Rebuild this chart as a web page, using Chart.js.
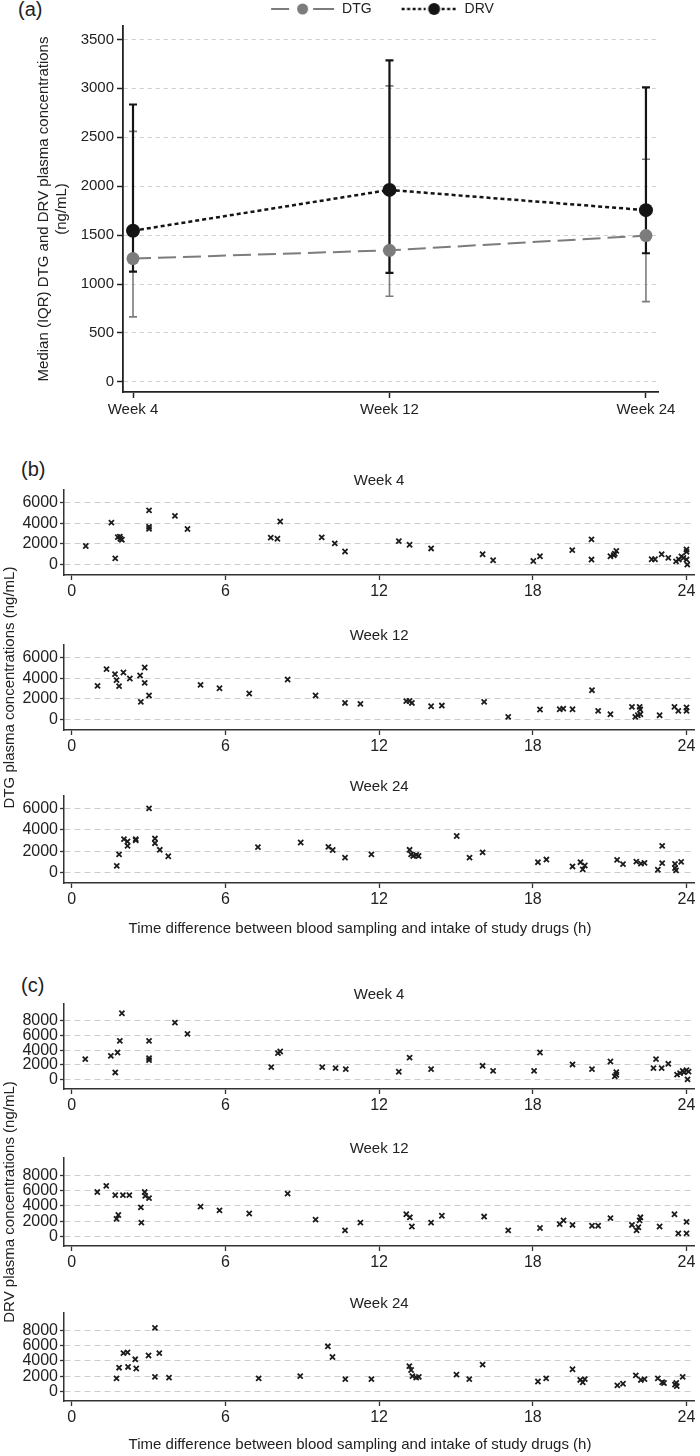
<!DOCTYPE html>
<html>
<head>
<meta charset="utf-8">
<script src="https://cdn.jsdelivr.net/npm/chart.js@4.4.0/dist/chart.umd.min.js"></script>
<style>
  body { margin: 0; background: #fff; }
  #wrap { position: relative; width: 700px; height: 1456px; font-family: "Liberation Sans", Arial, sans-serif; color: #222; }
  canvas { position: absolute; left: 0; }
  .lbl { position: absolute; font-size: 20px; line-height: 20px; }
  .xt { position: absolute; left: 0; width: 720px; text-align: center; font-size: 15px; line-height: 18px; }
</style>
</head>
<body>
<div id="wrap">
  <div class="lbl" style="left:18px;top:-1px">(a)</div>
  <canvas id="ca" width="700" height="430" style="top:0px"></canvas>

  <div class="lbl" style="left:21px;top:459px">(b)</div>
  <canvas id="b4" width="700" height="135" style="top:470px"></canvas>
  <canvas id="b12" width="700" height="255" style="top:560px"></canvas>
  <canvas id="b24" width="700" height="137" style="top:776px"></canvas>
  <div class="xt" style="top:919px">Time difference between blood sampling and intake of study drugs (h)</div>

  <div class="lbl" style="left:21px;top:975px">(c)</div>
  <canvas id="c4" width="700" height="135" style="top:984px"></canvas>
  <canvas id="c12" width="700" height="265" style="top:1070px"></canvas>
  <canvas id="c24" width="700" height="138" style="top:1293px"></canvas>
  <div class="xt" style="top:1435px">Time difference between blood sampling and intake of study drugs (h)</div>
</div>
<script>
// panel (a): median and IQR per visit
const weeks = ['Week 4', 'Week 12', 'Week 24'];
const dtgMedian = [1260, 1345, 1495];
const dtgQ1 = [665, 875, 820];
const dtgQ3 = [2560, 3025, 2275];
const drvMedian = [1545, 1962, 1755];
const drvQ1 = [1128, 1115, 1315];
const drvQ3 = [2835, 3285, 3010];
const medianTicks = [0, 500, 1000, 1500, 2000, 2500, 3000, 3500];

// panels (b) and (c): [hours since intake, ng/mL]
const hourTicks = [0, 6, 12, 18, 24];
const dtgTicks = [0, 2000, 4000, 6000];
const drvTicks = [0, 2000, 4000, 6000, 8000];

const dtgWeek4 = [[0.55,1800],[1.55,4050],[1.7,600],[1.8,2650],[1.88,2700],[1.96,2400],[1.9,2500],[3.02,5230],[3.02,3650],[3.02,3450],
  [4.03,4710],[4.52,3440],[7.77,2600],[8.03,2500],[8.14,4160],[9.76,2630],[10.27,2050],[10.67,1270],[12.77,2270],[13.19,1915],
  [14.03,1560],[16.04,1000],[16.45,420],[18.02,350],[18.28,810],[19.54,1400],[20.29,2440],[20.29,490],[21.03,810],[21.16,910],
  [21.26,1330],[21.2,1050],[22.64,520],[22.77,520],[23.03,1000],[23.29,650],[23.59,320],[23.7,500],[23.8,800],[23.88,650],
  [24.0,1460],[24.0,1230],[24.0,490],[24.03,0]];
const dtgWeek12 = [[1.01,3260],[1.36,4870],[1.69,4390],[1.75,3810],[1.85,3230],[2.02,4550],[2.27,3970],[2.67,4260],[2.85,5030],[2.85,3550],
  [2.7,1710],[3.02,2330],[5.03,3350],[5.77,3030],[6.93,2520],[8.43,3870],[9.52,2330],[10.67,1610],[11.27,1520],[13.06,1780],
  [13.19,1800],[13.28,1610],[14.03,1290],[14.45,1360],[16.1,1710],[17.04,260],[18.28,975],[19.05,1000],[19.19,1060],[19.55,1000],
  [20.31,2840],[20.55,840],[21.03,520],[21.87,1230],[22.17,1230],[22.19,975],[22.0,260],[22.1,425],[22.2,520],[22.95,425],
  [23.53,1230],[23.68,840],[24.0,1170],[24.0,840]];
const dtgWeek24 = [[1.76,620],[1.85,1700],[2.04,3130],[2.18,2910],[2.18,2500],[2.5,3130],[2.5,3030],[3.02,6030],[3.25,3190],[3.25,2750],
  [3.44,2130],[3.77,1520],[7.27,2380],[8.94,2820],[10.02,2410],[10.19,2110],[10.67,1390],[11.7,1700],[13.19,2130],[13.25,1700],
  [13.33,1550],[13.45,1650],[13.54,1550],[15.03,3430],[15.53,1390],[16.04,1890],[18.2,960],[18.53,1210],[19.55,560],[19.86,960],
  [20.03,650],[19.95,280],[21.29,1180],[21.52,780],[22.04,1020],[22.22,830],[22.36,900],[22.88,250],[23.05,2500],[23.05,870],
  [23.55,800],[23.55,410],[23.59,190],[23.79,990]];

const drvWeek4 = [[0.53,2790],[1.53,3240],[1.7,990],[1.79,3690],[1.88,5260],[1.96,9000],[3.02,5260],[3.02,2930],[3.02,2650],[4.03,7730],
  [4.52,6210],[7.79,1710],[8.05,3600],[8.14,3820],[9.78,1710],[10.3,1580],[10.7,1440],[12.77,1080],[13.19,3000],[14.03,1440],
  [16.04,1890],[16.45,1210],[18.05,1210],[18.28,3690],[19.55,2070],[20.31,1440],[21.03,2470],[21.26,1040],[21.26,675],[21.2,450],
  [22.71,1580],[22.81,2800],[23.03,1580],[23.29,2160],[23.63,700],[23.75,900],[23.85,1200],[23.9,1000],[24.0,1300],[24.08,1100],
  [24.04,50]];
const drvWeek12 = [[1.0,5800],[1.35,6600],[1.7,5400],[1.75,2300],[1.82,2800],[2.0,5400],[2.25,5400],[2.7,3800],[2.72,1800],[2.85,5800],
  [2.87,5300],[3.02,5000],[5.03,3900],[5.77,3400],[6.93,3000],[8.43,5600],[9.52,2200],[10.67,800],[11.27,1800],[13.06,2900],
  [13.2,2500],[13.28,1300],[14.03,1800],[14.45,2700],[16.1,2600],[17.04,800],[18.28,1100],[19.05,1600],[19.2,2100],[19.55,1500],
  [20.31,1400],[20.55,1400],[21.03,2400],[21.87,1500],[22.05,800],[22.12,1200],[22.17,2100],[22.2,2500],[22.95,1300],[23.53,2900],
  [23.68,400],[24.0,1900],[24.0,400]];
const drvWeek24 = [[1.75,1700],[1.85,3100],[2.02,5000],[2.18,5100],[2.2,3200],[2.48,4200],[2.52,3000],[3.0,4700],[3.25,8300],[3.42,5000],
  [3.25,1900],[3.8,1800],[7.3,1700],[8.92,2000],[10.0,5900],[10.18,4500],[10.68,1600],[11.7,1600],[13.18,3300],[13.25,2800],
  [13.3,2000],[13.45,1800],[13.55,1900],[15.02,2200],[15.52,1600],[16.04,3500],[18.2,1300],[18.52,1700],[19.55,2900],[19.85,1500],
  [19.95,1200],[20.03,1600],[21.3,800],[21.52,1000],[22.02,2100],[22.22,1500],[22.36,1600],[22.88,1700],[23.05,1200],[23.12,1100],
  [23.55,900],[23.6,1100],[23.62,700],[23.85,1900]];

Chart.defaults.font.family = "'Liberation Sans', Arial, sans-serif";
Chart.defaults.color = '#222';

const GREY = '#7c7c7c';
const INK = '#141414';

// vertical IQR bars with caps, drawn under the medians
const iqrBars = {
  id: 'iqrBars',
  beforeDatasetsDraw(chart) {
    const { ctx, scales: { x, y } } = chart;
    const bars = [
      { lo: dtgQ1, hi: dtgQ3, color: GREY, width: 1.6 },
      { lo: drvQ1, hi: drvQ3, color: INK, width: 2.2 }
    ];
    ctx.save();
    bars.forEach(b => {
      ctx.strokeStyle = b.color;
      ctx.lineWidth = b.width;
      b.lo.forEach((lo, i) => {
        const px = x.getPixelForValue(i);
        const y1 = y.getPixelForValue(lo);
        const y2 = y.getPixelForValue(b.hi[i]);
        ctx.beginPath();
        ctx.moveTo(px, y1); ctx.lineTo(px, y2);
        ctx.moveTo(px - 4, y1); ctx.lineTo(px + 4, y1);
        ctx.moveTo(px - 4, y2); ctx.lineTo(px + 4, y2);
        ctx.stroke();
      });
    });
    ctx.restore();
  }
};

function legendSymbol(color, dash, lw, segs, dot, r) {
  const c = document.createElement('canvas');
  c.width = 84; c.height = 14;
  const g = c.getContext('2d');
  g.strokeStyle = color;
  g.lineWidth = lw;
  g.setLineDash(dash);
  segs.forEach(s => { g.beginPath(); g.moveTo(s[0], 7); g.lineTo(s[1], 7); g.stroke(); });
  g.fillStyle = color;
  g.beginPath(); g.arc(dot, 7, r, 0, Math.PI * 2); g.fill();
  return c;
}
const dtgSymbol = legendSymbol(GREY, [], 2, [[20, 38], [62, 83]], 51.5, 5.5);
const drvSymbol = legendSymbol(INK, [3, 2.5], 2.5, [[28, 52], [68, 83]], 60.5, 6);

new Chart(document.getElementById('ca'), {
  type: 'line',
  data: {
    datasets: [
      { label: 'DTG', data: dtgMedian.map((v, i) => ({ x: i, y: v })), borderColor: GREY, backgroundColor: GREY,
        borderDash: [18, 7], borderWidth: 2, pointRadius: 6.5, pointBorderWidth: 0, order: 2 },
      { label: 'DRV', data: drvMedian.map((v, i) => ({ x: i, y: v })), borderColor: INK, backgroundColor: INK,
        borderDash: [4, 3], borderWidth: 2.5, pointRadius: 7, pointBorderWidth: 0, order: 1 }
    ]
  },
  options: {
    responsive: false, animation: false, devicePixelRatio: 1,
    layout: { padding: { left: 45, right: 0, top: 0, bottom: 0 } },
    plugins: {
      tooltip: { enabled: false },
      legend: {
        position: 'top',
        labels: {
          usePointStyle: true, pointStyleWidth: 84, padding: 2, font: { size: 14 },
          generateLabels: () => [
            { text: 'DTG', pointStyle: dtgSymbol, fillStyle: GREY, strokeStyle: GREY, lineWidth: 0, fontColor: '#222', hidden: false, datasetIndex: 0 },
            { text: 'DRV', pointStyle: drvSymbol, fillStyle: INK, strokeStyle: INK, lineWidth: 0, fontColor: '#222', hidden: false, datasetIndex: 1 }
          ]
        }
      }
    },
    scales: {
      x: {
        type: 'linear', min: -0.039, max: 2.047,
        afterBuildTicks: s => { s.ticks = weeks.map((w, i) => ({ value: i })); },
        afterFit: s => { s.height = 38; },
        ticks: { callback: v => weeks[v], font: { size: 15 }, padding: 3, autoSkip: false, maxRotation: 0 },
        grid: { drawOnChartArea: false, tickLength: 6, tickColor: '#222', tickWidth: 1.5 },
        border: { color: '#222', width: 1.8 }
      },
      y: {
        min: -103, max: 3637,
        afterBuildTicks: s => { s.ticks = medianTicks.map(v => ({ value: v })); },
        afterFit: s => { s.width = 78; },
        ticks: { callback: v => String(v), font: { size: 15 }, padding: 3, autoSkip: false },
        grid: { color: '#cfcfcf', lineWidth: 1, tickLength: 6, tickColor: '#222', tickWidth: 1.5 },
        border: { color: '#222', width: 1.8, dash: [4, 4] },
        title: {
          display: true, text: ['Median (IQR) DTG and DRV plasma concentrations', '(ng/mL)'],
          font: { size: 15 }, padding: { top: -10, bottom: 0 }, color: '#222'
        }
      },
      // empty right-hand box so the plot ends at the same place as the reference
      gap: {
        position: 'right', display: true,
        afterFit: s => { s.width = 42; },
        ticks: { display: false },
        grid: { display: false, drawTicks: false },
        border: { display: false }
      }
    }
  },
  plugins: [iqrBars]
});

function scatterPanel(id, title, points, yTicks, yMin, yMax, yTitle, padTop, padBottom) {
  new Chart(document.getElementById(id), {
    type: 'scatter',
    data: {
      datasets: [{
        data: points.map(p => ({ x: p[0], y: p[1] })),
        pointStyle: 'crossRot', pointRadius: 3.6, borderWidth: 1.8,
        borderColor: '#1c1c1c', backgroundColor: '#1c1c1c'
      }]
    },
    options: {
      responsive: false, animation: false, devicePixelRatio: 1,
      layout: { padding: { left: 0, right: 2, top: padTop || 0, bottom: padBottom || 0 } },
      plugins: {
        legend: { display: false },
        tooltip: { enabled: false },
        title: { display: true, text: title, fullSize: false, font: { size: 15, weight: 'normal' },
                 padding: { top: 2, bottom: 0 }, color: '#222' }
      },
      scales: {
        x: {
          type: 'linear', min: -0.3, max: 24.3,
          afterBuildTicks: s => { s.ticks = hourTicks.map(v => ({ value: v })); },
          afterFit: s => { s.height = 30; },
          ticks: { font: { size: 16 }, padding: 2, autoSkip: false, maxRotation: 0 },
          grid: { drawOnChartArea: false, tickLength: 5, tickColor: '#333', tickWidth: 1.3 },
          border: { color: '#333', width: 1.5 }
        },
        y: {
          min: yMin, max: yMax,
          afterBuildTicks: s => { s.ticks = yTicks.map(v => ({ value: v })); },
          afterFit: s => { s.width = 64; },
          ticks: { callback: v => String(v), font: { size: 16 }, padding: 2, autoSkip: false },
          grid: { color: '#cdcdcd', lineWidth: 1, tickLength: 4, tickColor: '#333', tickWidth: 1.3 },
          border: { color: '#333', width: 1.5, dash: [6, 4] },
          title: yTitle
            ? { display: true, text: yTitle, font: { size: 15 }, padding: { top: 1, bottom: 0 }, color: '#222' }
            : { display: false }
        }
      }
    }
  });
}

scatterPanel('b4', 'Week 4', dtgWeek4, dtgTicks, -1000, 7200);
scatterPanel('b12', 'Week 12', dtgWeek12, dtgTicks, -1000, 7200, 'DTG plasma concentrations (ng/mL)', 65, 55);
scatterPanel('b24', 'Week 24', dtgWeek24, dtgTicks, -1000, 7200);
scatterPanel('c4', 'Week 4', drvWeek4, drvTicks, -1250, 10250);
scatterPanel('c12', 'Week 12', drvWeek12, drvTicks, -1250, 10250, 'DRV plasma concentrations (ng/mL)', 68, 59);
scatterPanel('c24', 'Week 24', drvWeek24, drvTicks, -1250, 10250);
</script>
</body>
</html>
